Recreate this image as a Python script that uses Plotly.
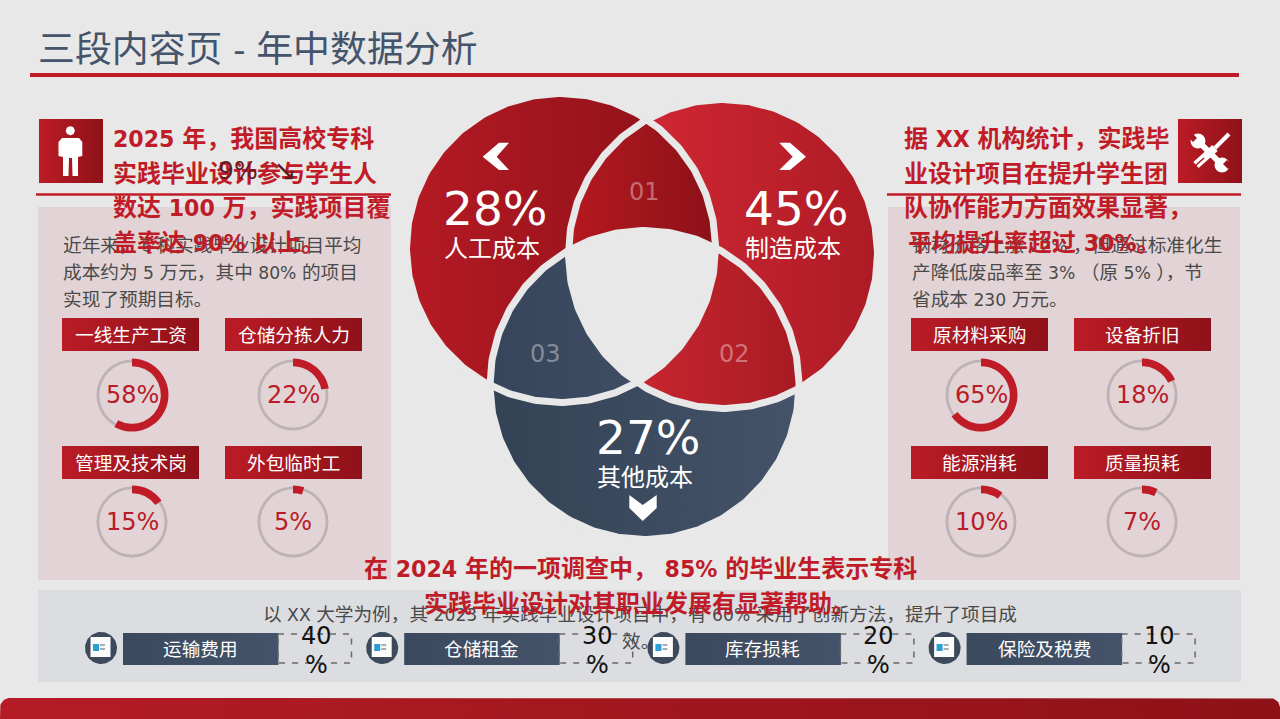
import re

import numpy as np
import plotly.graph_objects as go

FONT = "DejaVu Sans, Noto Sans CJK SC, sans-serif"
BG = "#e8e8e8"
RED = "#c01c28"
GREY_TEXT = "#4a4a4a"
SLATE = "#44546a"

TITLE = "三段内容页 - 年中数据分析"

VENN_LABELS = ["人工成本", "制造成本", "其他成本"]
VENN_VALUES = [28, 45, 27]
VENN_TAGS = ["01", "02", "03"]

LEFT_LABELS = ["一线生产工资", "仓储分拣人力", "管理及技术岗", "外包临时工"]
LEFT_VALUES = [58, 22, 15, 5]
RIGHT_LABELS = ["原材料采购", "设备折旧", "能源消耗", "质量损耗"]
RIGHT_VALUES = [65, 18, 10, 7]
BOTTOM_LABELS = ["运输费用", "仓储租金", "库存损耗", "保险及税费"]
BOTTOM_VALUES = [40, 30, 20, 10]

LEFT_HEAD = ["2025 年，我国高校专科", "实践毕业设计参与学生人", "数达 100 万，实践项目覆", "盖率达 90% 以上。"]
RIGHT_HEAD = ["据 XX 机构统计，实践毕", "业设计项目在提升学生团", "队协作能力方面效果显著，", "平均提升率超过 30%。"]
LEFT_BODY = ["近年来，专科实践毕业设计项目平均", "成本约为 5 万元，其中 80% 的项目", "实现了预期目标。"]
RIGHT_BODY = ["钢材价格上涨 12% ，但通过标准化生", "产降低废品率至 3% （原 5% ），节", "省成本 230 万元。"]
MID_HEAD = ["在 2024 年的一项调查中， 85% 的毕业生表示专科", "实践毕业设计对其职业发展有显著帮助。"]
MID_BODY = ["以 XX 大学为例，其 2023 年实践毕业设计项目中，有 60% 采用了创新方法，提升了项目成", "效。"]

W, H = 1280, 719
LATIN_SCALE = 0.92
fig = go.Figure()
notes = []


def poly(xs, ys, c0, c1=None, kind="horizontal"):
    trace = go.Scatter(x=list(xs), y=list(ys), mode="lines", fill="toself",
                       line=dict(width=0), hoverinfo="skip", showlegend=False)
    if c1 is None:
        trace.fillcolor = c0
    else:
        trace.fillgradient = dict(type=kind, colorscale=[[0, c0], [1, c1]])
    fig.add_trace(trace)


def rect(x0, y0, x1, y1, c0, c1=None):
    poly([x0, x1, x1, x0, x0], [y0, y0, y1, y1, y0], c0, c1)


def circle_pts(cx, cy, r, n=360):
    t = np.linspace(0, 2 * np.pi, n, endpoint=False)
    return np.column_stack([cx + r * np.cos(t), cy + r * np.sin(t)])


def clip(subject, cx, cy, r):
    # keep the part of a convex polygon inside a circle, by clipping on a fine polygon
    out = subject
    pts = circle_pts(cx, cy, r, 180)[::-1]
    for a, b in zip(pts, np.roll(pts, -1, axis=0)):
        edge = b - a
        side = lambda p: edge[0] * (p[1] - a[1]) - edge[1] * (p[0] - a[0])
        sign = side(np.array([cx, cy]))
        res = []
        for p, q in zip(out, np.roll(out, -1, axis=0)):
            sp, sq = side(p) * sign, side(q) * sign
            if sp >= 0:
                res.append(p)
            if sp * sq < 0:
                res.append(p + (q - p) * sp / (sp - sq))
        out = np.array(res)
    return out


def closed(pts):
    return np.vstack([pts, pts[:1]])


def text(x, y, s, size, color, bold=False, anchor="center", mixed=False):
    if mixed:
        # latin runs sit a little smaller than the CJK ones in the reference
        s = re.sub(r"[ -~]+", lambda m: f'<span style="font-size:{size * LATIN_SCALE:.1f}px">{m.group(0)}</span>', s)
    if anchor == "left":
        x -= 2
    notes.append(dict(x=x, y=y, xref="x", yref="y", text=f"<b>{s}</b>" if bold else s,
                      showarrow=False, xanchor=anchor, yanchor="middle",
                      font=dict(family=FONT, size=size, color=color)))


def ring(cx, cy, value):
    def dom(r):
        return dict(x=[(cx - r) / W, (cx + r) / W], y=[1 - (cy + r) / H, 1 - (cy - r) / H])
    fig.add_trace(go.Pie(values=[100], domain=dom(35.5), hole=0.92, sort=False, textinfo="none",
                         marker=dict(colors=["#bdb2b4"], line=dict(width=0)),
                         hoverinfo="skip", showlegend=False))
    fig.add_trace(go.Pie(values=[value, 100 - value], domain=dom(36.5), hole=0.79, sort=False,
                         direction="clockwise", rotation=0, textinfo="none",
                         marker=dict(colors=[RED, "rgba(0,0,0,0)"], line=dict(width=0)),
                         hoverinfo="skip", showlegend=False))
    text(cx, cy, f"{value}%", 24, "#b91c28")


# panels and rules
rect(38, 207, 391, 580, "#e2d4d6")
rect(888, 207, 1240, 580, "#e2d4d6")
rect(38, 590, 1241, 682, "#dcdde0")
fig.add_shape(type="line", x0=30, x1=1239, y0=75, y1=75, line=dict(color=RED, width=4))
fig.add_shape(type="line", x0=36, x1=391, y0=194.5, y1=194.5, line=dict(color=RED, width=2.5))
fig.add_shape(type="line", x0=887, x1=1241, y0=194.5, y1=194.5, line=dict(color=RED, width=2.5))

# footer bar with rounded top corners
t = np.linspace(np.pi, 1.5 * np.pi, 12)
fx = [0, *(10 + 10 * np.cos(t)), *(1270 - 10 * np.cos(t[::-1])), 1280, 0]
fy = [719, *(708 + 10 * np.sin(t)), *(708 + 10 * np.sin(t[::-1])), 719, 719]
poly(fx, fy, "#b51c25", "#8e1118")

# venn
CL = (561, 248)
CR = (723, 254)
CB = (644.5, 385)
R_FILL = 153
R_GAP = 154.5
for (cx, cy), c0, c1 in [(CL, "#b51a24", "#8a1018"), (CR, "#da2b38", "#ad1b25"), (CB, "#344255", "#445369")]:
    p = closed(circle_pts(cx, cy, R_FILL))
    poly(p[:, 0], p[:, 1], c0, c1)
lens = [(CL, CR, "#b5191f", "#8c1119"), (CR, CB, "#d62a35", "#a81b23"), (CL, CB, "#36455a", "#425168")]
for a, b, c0, c1 in lens:
    p = closed(clip(circle_pts(*a, R_FILL), *b, R_FILL))
    poly(p[:, 0], p[:, 1], c0, c1)
mid = closed(clip(clip(circle_pts(*CL, R_FILL), *CR, R_FILL), *CB, R_FILL))
poly(mid[:, 0], mid[:, 1], BG)
for c in (CL, CR, CB):
    p = closed(circle_pts(*c, R_GAP))
    fig.add_trace(go.Scatter(x=p[:, 0], y=p[:, 1], mode="lines", line=dict(color=BG, width=7),
                             hoverinfo="skip", showlegend=False))

# chevrons
poly([482.7, 499, 509, 496.7, 509, 499, 482.7], [156.7, 142.7, 142.7, 156.7, 170, 170, 156.7], "#ffffff")
poly([806, 790, 779.3, 792.7, 779.3, 790, 806], [156.7, 142.7, 142.7, 156.7, 170, 170, 156.7], "#ffffff")
poly([629.3, 642.7, 656.7, 656.7, 642.7, 629.3, 629.3], [495, 505, 495, 508, 521, 508, 495], "#ffffff")

# person icon
rect(39, 119, 103, 183, "#bb1c26", "#8f1119")
head = closed(circle_pts(70.3, 130.7, 4.5, 40))
poly(head[:, 0], head[:, 1], "#ffffff")
poly([62, 79, 82.3, 82.3, 78, 78, 72.5, 72, 69, 68.5, 63, 63, 58.5, 58.5, 62],
     [138, 138, 142, 156, 157, 176, 176, 158, 158, 176, 176, 157, 156, 142, 138], "#ffffff")

# tools icon
rect(1178, 119, 1242, 183, "#bb1c26", "#8f1119")
fig.add_trace(go.Scatter(x=[1198, 1222], y=[141, 165], mode="lines", line=dict(color="white", width=6),
                         hoverinfo="skip", showlegend=False))
fig.add_trace(go.Scatter(x=[1198, 1222], y=[141, 165], mode="markers",
                         marker=dict(color="white", size=15), hoverinfo="skip", showlegend=False))
poly([1192, 1197, 1193, 1188, 1192], [133, 138, 142, 137, 133], "#a8161f")
poly([1223, 1227, 1232, 1228, 1223], [164, 160, 165, 169, 164], "#9a131c")
fig.add_trace(go.Scatter(x=[1196, 1215], y=[165, 148], mode="lines", line=dict(color="white", width=8),
                         hoverinfo="skip", showlegend=False))
fig.add_trace(go.Scatter(x=[1215, 1229], y=[148, 134], mode="lines", line=dict(color="white", width=4),
                         hoverinfo="skip", showlegend=False))
fig.add_trace(go.Scatter(x=[1194, 1204], y=[167, 158], mode="lines", line=dict(color="#a8161f", width=1.5),
                         hoverinfo="skip", showlegend=False))

# label boxes and rings
COLS_L = [(62, 199, 132), (225, 362, 293)]
COLS_R = [(911, 1048, 981), (1074, 1211, 1142)]
ROWS = [(318, 351, 395), (446, 479, 522)]
for cols, labels, values in [(COLS_L, LEFT_LABELS, LEFT_VALUES), (COLS_R, RIGHT_LABELS, RIGHT_VALUES)]:
    for i in range(4):
        x0, x1, cx = cols[i % 2]
        y0, y1, cy = ROWS[i // 2]
        rect(x0, y0, x1, y1, "#bb1c26", "#8f1119")
        text((x0 + x1) / 2, (y0 + y1) / 2 + 0.5, labels[i], 18.67, "#ffffff")
        ring(cx, cy, values[i])

# bottom row
for i in range(4):
    dx = 281.2 * i
    c = closed(circle_pts(101 + dx, 648, 16, 60))
    poly(c[:, 0], c[:, 1], "#3d4a5c")
    rect(90.5 + dx, 637, 110.5 + dx, 657, "#fbfbfb")
    rect(93 + dx, 644, 99 + dx, 651, "#2a9fd6")
    rect(100 + dx, 644, 105 + dx, 646, "#a9b0b8")
    rect(100 + dx, 648, 105 + dx, 650, "#a9b0b8")
    fig.add_shape(type="rect", x0=278 + dx, x1=351.5 + dx, y0=634, y1=663,
                  line=dict(color="#6a6a6a", width=1.5, dash="6px,7px"))
    rect(123 + dx, 633, 278.5 + dx, 665, "#3b495e", "#445369")
    text(200.5 + dx, 649.5, BOTTOM_LABELS[i], 18.67, "#ffffff")
    text(316 + dx, 636, str(BOTTOM_VALUES[i]), 24, "#111111")
    text(316 + dx, 665, "%", 24, "#111111")

# venn text
VENN_POS = [(495, 208, 249), (796, 208, 249), (648, 437, 478)]
for (x, y0, y1), label, value in zip(VENN_POS, VENN_LABELS, VENN_VALUES):
    text(x, y0, f"{value}%", 47, "#ffffff")
    text(x - 3, y1, label, 24, "#ffffff")
for (x, y), tag in zip([(644, 192), (734, 354), (545, 354)], VENN_TAGS):
    text(x, y, tag, 24, "rgba(255,255,255,0.38)")

# body text
text(38, 49, TITLE, 36.9, SLATE, anchor="left", mixed=True)
for i, s in enumerate(LEFT_BODY):
    text(63, 245 + 27 * i, s, 18.67, GREY_TEXT, anchor="left", mixed=True)
for i, s in enumerate(RIGHT_BODY):
    text(912, 245 + 27 * i, s, 18.67, GREY_TEXT, anchor="left", mixed=True)
for i, s in enumerate(MID_BODY):
    text(640, 614 + 27 * i, s, 18.67, GREY_TEXT, mixed=True)

for i, s in enumerate(LEFT_HEAD):
    text(113, 139 + 34.7 * i, s, 24, RED, bold=True, anchor="left", mixed=True)
for i, s in enumerate(RIGHT_HEAD):
    text(904 if i < 3 else 908, 139 + 34.7 * i, s, 24, RED, bold=True, anchor="left", mixed=True)
for i, s in enumerate(MID_HEAD):
    text(640, 569 + 35 * i, s, 24, RED, bold=True, mixed=True)
text(218, 170, "9%", 25, "#5e1c20", anchor="left")
text(273, 170, "↘", 28, "#5e1c20", anchor="left")

fig.update_layout(
    width=W, height=H, margin=dict(l=0, r=0, t=0, b=0), autosize=False,
    paper_bgcolor=BG, plot_bgcolor=BG, showlegend=False, annotations=notes,
    xaxis=dict(range=[0, W], visible=False, fixedrange=True),
    yaxis=dict(range=[H, 0], visible=False, fixedrange=True),
)
fig.write_html("out.html", config=dict(displayModeBar=False),
               post_script="document.body.style.margin='0';document.body.style.overflow='hidden';")
